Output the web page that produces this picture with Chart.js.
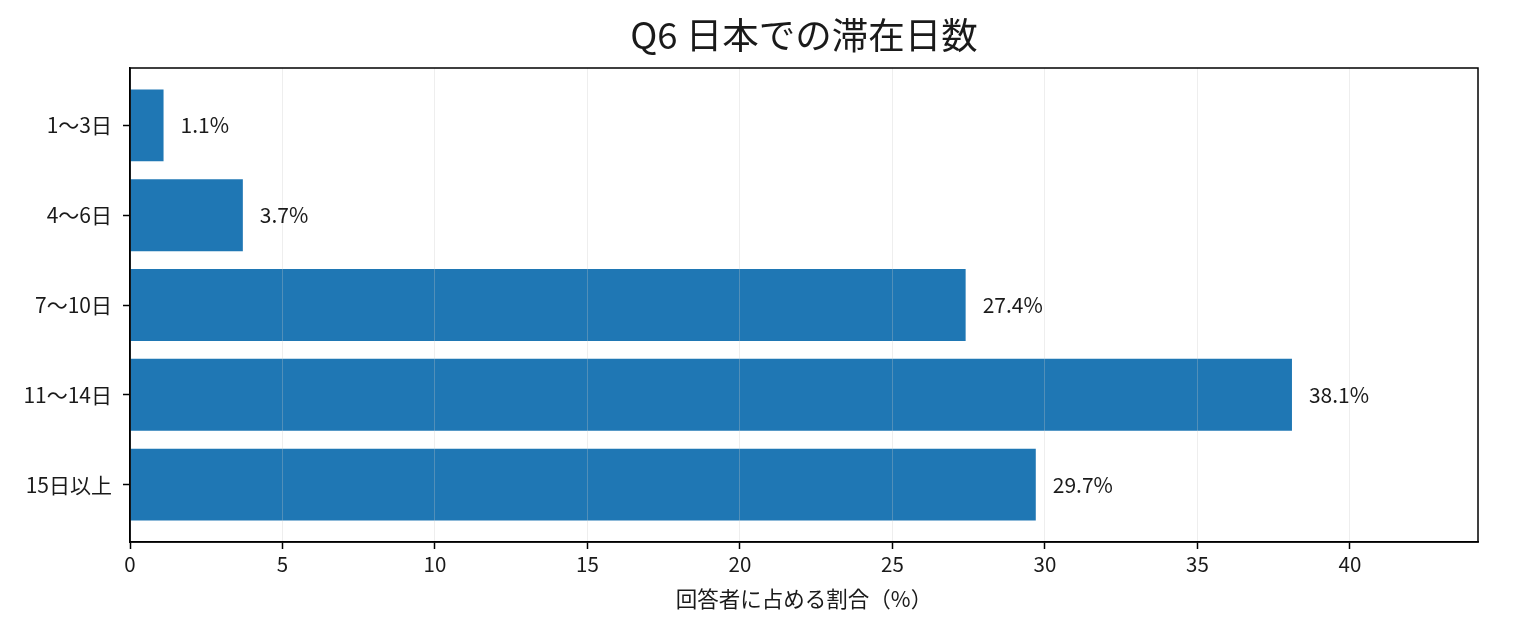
<!DOCTYPE html>
<html>
<head>
<meta charset="utf-8">
<script src="https://cdn.jsdelivr.net/npm/chart.js@4.4.1/dist/chart.umd.min.js"></script>
<style>
  html, body { margin: 0; padding: 0; background: #fff; }
  #wrap { width: 1540px; height: 638px; }
</style>
</head>
<body>
<div id="wrap"><canvas id="c" width="1540" height="638"></canvas></div>
<script>
const titleText = "Q6 日本での滞在日数";
const xAxisTitle = "回答者に占める割合（%）";
const categories = ["1〜3日", "4〜6日", "7〜10日", "11〜14日", "15日以上"];
const values = [1.1, 3.7, 27.4, 38.1, 29.7];
const xTicks = [0, 5, 10, 15, 20, 25, 30, 35, 40];

const FONT = '"Noto Sans CJK JP", "Noto Sans", sans-serif';
const TEXT = '#1a1a1a';

const framePlugin = {
  id: 'frame',
  afterDraw(chart) {
    const { ctx, chartArea: a } = chart;
    ctx.save();
    ctx.strokeStyle = '#000';
    ctx.lineWidth = 1.5;
    ctx.strokeRect(a.left, a.top, a.right - a.left, a.bottom - a.top);
    ctx.fillStyle = TEXT;
    ctx.font = '36.5px ' + FONT;
    ctx.textAlign = 'center';
    ctx.textBaseline = 'middle';
    ctx.fillText(titleText, (a.left + a.right) / 2, 35);
    ctx.restore();
  }
};

const valueLabels = {
  id: 'valueLabels',
  afterDraw(chart) {
    const { ctx } = chart;
    const meta = chart.getDatasetMeta(0);
    ctx.save();
    ctx.fillStyle = TEXT;
    ctx.font = '21px ' + FONT;
    ctx.textAlign = 'left';
    ctx.textBaseline = 'middle';
    meta.data.forEach((bar, i) => {
      ctx.fillText(values[i].toFixed(1) + '%', bar.x + 17, bar.y);
    });
    ctx.restore();
  }
};

new Chart(document.getElementById('c'), {
  type: 'bar',
  data: {
    datasets: [{
      data: values.map((v, i) => ({ x: v, y: i })),
      backgroundColor: '#1f77b4',
      borderWidth: 0,
      barPercentage: 0.8,
      categoryPercentage: 1.0
    }]
  },
  options: {
    indexAxis: 'y',
    responsive: false,
    animation: false,
    devicePixelRatio: 1,
    layout: { padding: { top: 68, right: 62, left: 0, bottom: 0 } },
    plugins: {
      legend: { display: false },
      title: { display: false },
      tooltip: { enabled: false }
    },
    scales: {
      x: {
        type: 'linear',
        position: 'bottom',
        min: 0,
        max: 44.2,
        afterBuildTicks: (s) => { s.ticks = xTicks.map(v => ({ value: v })); },
        afterFit: (s) => { s.height = 96; },
        ticks: {
          color: TEXT,
          font: { family: FONT, size: 20.5 },
          padding: 3,
          maxRotation: 0
        },
        grid: {
          z: 1,
          color: 'rgba(200,200,200,0.3)',
          lineWidth: 1,
          drawTicks: true,
          tickLength: 7,
          tickColor: '#000',
          tickWidth: 1.5
        },
        border: { display: true, color: '#000', width: 1.5, z: 2 },
        title: {
          display: true,
          text: xAxisTitle,
          color: TEXT,
          font: { family: FONT, size: 21.5 },
          padding: { top: 2, bottom: 26 }
        }
      },
      y: {
        type: 'linear',
        position: 'left',
        min: -0.64,
        max: 4.64,
        reverse: true,
        offset: false,
        afterBuildTicks: (s) => { s.ticks = categories.map((c, i) => ({ value: i })); },
        afterFit: (s) => { s.width = 130; },
        ticks: {
          color: TEXT,
          font: { family: FONT, size: 21 },
          padding: 11,
          callback: (v) => categories[v]
        },
        grid: {
          display: true,
          offset: false,
          drawOnChartArea: false,
          drawTicks: true,
          tickLength: 7,
          tickColor: '#000',
          tickWidth: 1.5
        },
        border: { display: true, color: '#000', width: 1.5, z: 2 }
      }
    }
  },
  plugins: [framePlugin, valueLabels]
});
</script>
</body>
</html>
